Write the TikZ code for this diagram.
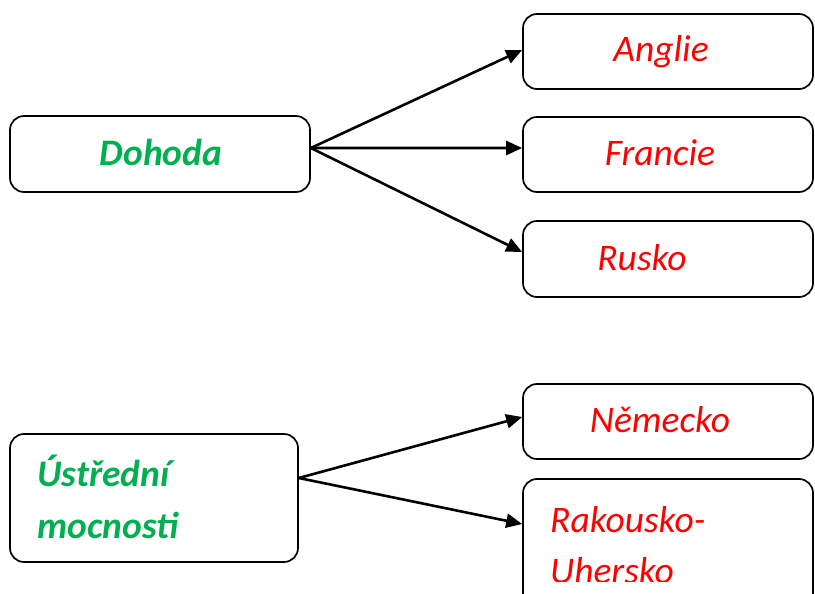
\documentclass[tikz,border=0pt]{standalone}
\usepackage{fontspec}
\setmainfont{Carlito}
\usetikzlibrary{arrows.meta}
\definecolor{grn}{RGB}{0,176,80}
\definecolor{rd}{RGB}{255,0,0}
\begin{document}
\begin{tikzpicture}[x=1bp,y=-1bp,
  box/.style={draw, line width=1.7bp, rounded corners=14bp, inner sep=0pt},
  conn/.style={line width=2.6bp, -{Triangle[length=16bp,width=14bp]}},
  lbl/.style={font=\fontsize{37.5bp}{52bp}\selectfont\itshape, text=rd, inner sep=0pt},
  glbl/.style={font=\fontsize{37.5bp}{52bp}\selectfont\bfseries\itshape, text=grn, inner sep=0pt}]
\useasboundingbox (0,0) rectangle (815,594);
\clip (0,0) rectangle (815,594);
% boxes
\node[box, minimum width=300bp, minimum height=76bp] (dohoda) at (160,154) {};
\node[box, minimum width=290bp, minimum height=75bp] (anglie) at (668,51.5) {};
\node[box, minimum width=290bp, minimum height=75bp] (francie) at (668,154.5) {};
\node[box, minimum width=290bp, minimum height=76bp] (rusko) at (668,259) {};
\node[box, minimum width=288bp, minimum height=128bp] (ustr) at (154,498) {};
\node[box, minimum width=290bp, minimum height=75bp] (nemecko) at (668,421.5) {};
\node[box, minimum width=290bp, minimum height=131bp] (rak) at (668,544.5) {};
% texts
\node[glbl, anchor=base] (tdohoda) at (161,166) {Dohoda};
\node[lbl, anchor=base] (tanglie) at (661,62) {Anglie};
\node[lbl, anchor=base] (tfrancie) at (660,166) {Francie};
\node[lbl, anchor=base] (trusko) at (642,270) {Rusko};
\node[glbl, anchor=base west] (tustr1) at (37,486) {Ústřední};
\node[glbl, anchor=base west] (tustr2) at (37,538) {mocnosti};
\node[lbl, anchor=base] (tnem) at (660,432) {Německo};
\node[lbl, anchor=base west] (trak1) at (550,532) {Rakousko-};
\begin{scope}
\clip (523,540) rectangle (815,581);
\node[lbl, anchor=base west] (trak2) at (550,583) {Uhersko};
\end{scope}
% connectors
\draw[conn] ([yshift=6bp]dohoda.east) -- ([yshift=1.5bp]anglie.west);
\draw[conn] ([yshift=6bp]dohoda.east) -- ([yshift=6.5bp]francie.west);
\draw[conn] ([yshift=6bp]dohoda.east) -- ([yshift=7bp]rusko.west);
\draw[conn] ([yshift=20bp]ustr.east) -- ([yshift=4.5bp]nemecko.west);
\draw[conn] ([yshift=20bp]ustr.east) -- ([yshift=20.5bp]rak.west);
\end{tikzpicture}
\end{document}
